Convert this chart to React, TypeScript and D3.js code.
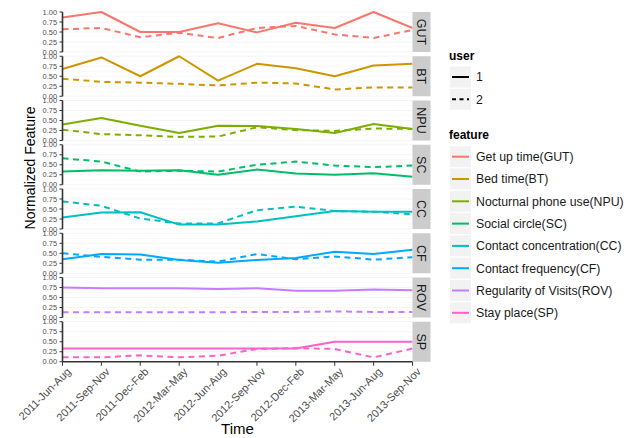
import React from "react";
import * as d3 from "d3";

// Seasonal periods on the x axis
const periods = [
  "2011-Jun-Aug", "2011-Sep-Nov", "2011-Dec-Feb", "2012-Mar-May", "2012-Jun-Aug",
  "2012-Sep-Nov", "2012-Dec-Feb", "2013-Mar-May", "2013-Jun-Aug", "2013-Sep-Nov",
];

// Feature facets: short code (strip label) and legend name
const featureCodes = ["GUT", "BT", "NPU", "SC", "CC", "CF", "ROV", "SP"];
const featureNames = [
  "Get up time(GUT)", "Bed time(BT)", "Nocturnal phone use(NPU)", "Social circle(SC)",
  "Contact concentration(CC)", "Contact frequency(CF)", "Regularity of Visits(ROV)", "Stay place(SP)",
];
const featureColors = ["#F8766D", "#CD9600", "#7CAE00", "#00BE67", "#00BFC4", "#00A9FF", "#C77CFF", "#FF61CC"];

const users = ["1", "2"];

// Normalized feature values per user (one entry per period)
const user1GUT = [0.86, 1.0, 0.5, 0.5, 0.72, 0.49, 0.73, 0.6, 1.0, 0.6];
const user2GUT = [0.57, 0.6, 0.37, 0.48, 0.35, 0.6, 0.65, 0.44, 0.35, 0.55];
const user1BT = [0.68, 0.97, 0.5, 1.0, 0.39, 0.81, 0.7, 0.5, 0.77, 0.81];
const user2BT = [0.44, 0.36, 0.34, 0.31, 0.27, 0.34, 0.32, 0.17, 0.22, 0.22];
const user1NPU = [0.4, 0.56, 0.37, 0.19, 0.37, 0.36, 0.29, 0.19, 0.41, 0.29];
const user2NPU = [0.27, 0.16, 0.13, 0.09, 0.1, 0.33, 0.26, 0.24, 0.3, 0.29];
const user1SC = [0.33, 0.36, 0.35, 0.36, 0.25, 0.38, 0.28, 0.25, 0.29, 0.2];
const user2SC = [0.66, 0.58, 0.33, 0.35, 0.33, 0.5, 0.58, 0.48, 0.44, 0.48];
const user1CC = [0.29, 0.41, 0.42, 0.11, 0.11, 0.19, 0.32, 0.45, 0.43, 0.43];
const user2CC = [0.69, 0.58, 0.26, 0.14, 0.14, 0.47, 0.56, 0.45, 0.43, 0.37];
const user1CF = [0.35, 0.48, 0.47, 0.33, 0.26, 0.33, 0.38, 0.54, 0.48, 0.59];
const user2CF = [0.5, 0.41, 0.34, 0.34, 0.29, 0.48, 0.35, 0.42, 0.34, 0.4];
const user1ROV = [0.75, 0.73, 0.73, 0.73, 0.71, 0.73, 0.67, 0.67, 0.7, 0.68];
const user2ROV = [0.13, 0.13, 0.13, 0.13, 0.13, 0.14, 0.14, 0.15, 0.14, 0.14];
const user1SP = [0.33, 0.33, 0.33, 0.33, 0.33, 0.33, 0.33, 0.5, 0.5, 0.5];
const user2SP = [0.11, 0.11, 0.16, 0.11, 0.15, 0.32, 0.34, 0.32, 0.11, 0.33];

const yTicks = [0, 0.25, 0.5, 0.75, 1];
const yMinor = [0.125, 0.375, 0.625, 0.875];

const seriesByFeature = [
  [user1GUT, user2GUT],
  [user1BT, user2BT],
  [user1NPU, user2NPU],
  [user1SC, user2SC],
  [user1CC, user2CC],
  [user1CF, user2CF],
  [user1ROV, user2ROV],
  [user1SP, user2SP],
];

const W = 630;
const H = 438;
const plotLeft = 62.5;
const plotRight = 412.5;
const stripW = 18;
const panelTop = 12;
const panelH = 40;
const panelStep = 44.25;
const font = "'Liberation Sans', Arial, Helvetica, sans-serif";
const dashes = ["none", "6,4.5"];

export default function App() {
  const x = d3.scalePoint<string>().domain(periods).range([plotLeft, plotRight]);
  const y = d3.scaleLinear().domain([0, 1]).range([panelH, 0]);
  const line = d3
    .line<number>()
    .x((_, i) => x(periods[i]) as number)
    .y((v) => y(v));
  const fmt = d3.format(".2f");
  const bottom = panelTop + (featureCodes.length - 1) * panelStep + panelH;

  return (
    <svg width={W} height={H} style={{ position: "absolute", left: 0, top: 0, background: "#fff" }} fontFamily={font}>
      {featureCodes.map((code, fi) => {
        const top = panelTop + fi * panelStep;
        return (
          <g key={code} transform={`translate(0,${top})`}>
            {yMinor.map((t) => (
              <line key={"m" + t} x1={plotLeft} x2={plotRight} y1={y(t)} y2={y(t)} stroke="#f6f6f6" strokeWidth={0.6} />
            ))}
            {yTicks.map((t) => (
              <line key={"g" + t} x1={plotLeft} x2={plotRight} y1={y(t)} y2={y(t)} stroke="#efefef" strokeWidth={0.6} />
            ))}
            {seriesByFeature[fi].map((vals, ui) => (
              <path
                key={ui}
                d={line(vals) as string}
                fill="none"
                stroke={featureColors[fi]}
                strokeWidth={2}
                strokeDasharray={dashes[ui]}
                strokeLinejoin="round"
              />
            ))}
            {/* left axis */}
            <line x1={plotLeft} x2={plotLeft} y1={0} y2={panelH} stroke="#333" strokeWidth={1.6} />
            {yTicks.map((t) => (
              <g key={"t" + t}>
                <line x1={plotLeft - 3} x2={plotLeft} y1={y(t)} y2={y(t)} stroke="#333" strokeWidth={1} />
                <text x={plotLeft - 5.5} y={y(t)} dy="0.35em" textAnchor="end" fontSize={7.4} fill="#4d4d4d">
                  {fmt(t)}
                </text>
              </g>
            ))}
            {/* facet strip */}
            <rect x={plotRight} y={0} width={stripW} height={panelH} fill="#cccccc" />
            <text
              transform={`translate(${plotRight + stripW / 2},${panelH / 2}) rotate(90)`}
              textAnchor="middle"
              dy="0.36em"
              fontSize={12.5}
              fill="#1a1a1a"
            >
              {code}
            </text>
          </g>
        );
      })}

      {/* bottom axis */}
      <line x1={plotLeft} x2={plotRight} y1={bottom} y2={bottom} stroke="#333" strokeWidth={1.6} />
      {periods.map((p) => {
        const px = x(p) as number;
        return (
          <g key={p}>
            <line x1={px} x2={px} y1={bottom} y2={bottom + 4} stroke="#333" strokeWidth={1} />
            <text
              transform={`translate(${px + 3.5},${bottom + 5}) rotate(-45)`}
              textAnchor="end"
              dy="0.72em"
              fontSize={11}
              fill="#4d4d4d"
            >
              {p}
            </text>
          </g>
        );
      })}

      {/* axis titles */}
      <text x={(plotLeft + plotRight) / 2} y={434} textAnchor="middle" fontSize={15} fill="#000">
        Time
      </text>
      <text transform="translate(35,168) rotate(-90)" textAnchor="middle" fontSize={14} fill="#000">
        Normalized Feature
      </text>

      {/* legend: user line type */}
      <text x={449} y={60} fontSize={12} fontWeight="bold" fill="#000">
        user
      </text>
      {users.map((u, i) => {
        const cy = 77 + i * 22.3;
        return (
          <g key={u}>
            <rect x={450} y={cy - 10.5} width={21} height={21} fill="#f2f2f2" />
            <line x1={452} x2={469} y1={cy} y2={cy} stroke="#000" strokeWidth={2} strokeDasharray={i === 1 ? "4,3.5" : "none"} />
            <text x={476} y={cy} dy="0.36em" fontSize={12.3} fill="#1a1a1a">
              {u}
            </text>
          </g>
        );
      })}

      {/* legend: feature colour */}
      <text x={449} y={139} fontSize={12} fontWeight="bold" fill="#000">
        feature
      </text>
      {featureNames.map((name, i) => {
        const cy = 156.7 + i * 22.3;
        return (
          <g key={name}>
            <rect x={450} y={cy - 10.5} width={21} height={21} fill="#f2f2f2" />
            <line x1={452} x2={469} y1={cy} y2={cy} stroke={featureColors[i]} strokeWidth={2} />
            <text x={476} y={cy} dy="0.36em" fontSize={12.3} fill="#1a1a1a">
              {name}
            </text>
          </g>
        );
      })}
    </svg>
  );
}
